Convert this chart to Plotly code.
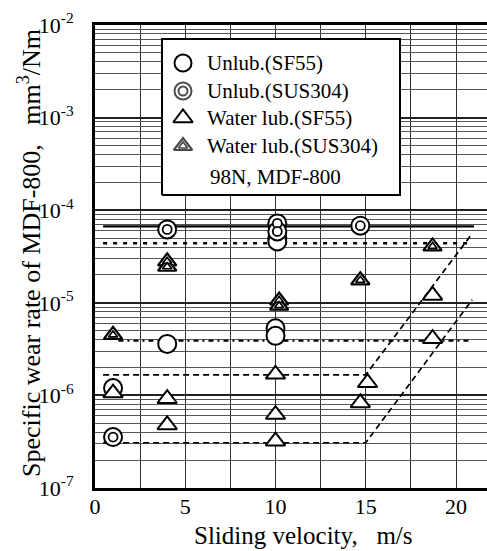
import plotly.graph_objects as go

# ---------------- data ----------------
unlub_sf55_x = [1.0, 4.0, 10.0, 10.0, 10.1, 10.1]
unlub_sf55_y = [1.2e-6, 3.6e-6, 5.3e-6, 4.4e-6, 5.0e-5, 4.6e-5]

unlub_sus_x = [1.0, 4.0, 10.1, 10.1, 14.7]
unlub_sus_y = [3.55e-7, 6.2e-5, 7.2e-5, 5.9e-5, 6.8e-5]

water_sf55_x = [1.0, 4.0, 4.0, 10.0, 10.0, 10.0, 14.7, 15.1, 18.7, 18.7]
water_sf55_y = [1.06e-6, 9.2e-7, 4.8e-7, 1.69e-6, 6.2e-7, 3.2e-7, 8.3e-7, 1.37e-6, 1.2e-5, 4.1e-6]

water_sus_x = [1.0, 4.0, 4.0, 10.2, 10.2, 14.7, 18.7]
water_sus_y = [4.5e-6, 2.8e-5, 2.45e-5, 1.06e-5, 9.3e-6, 1.75e-5, 4.06e-5]

# trend lines
solid_x, solid_y = [0.45, 21.0], [6.7e-5, 6.7e-5]
dot_x, dot_y = [0.45, 20.9], [4.4e-5, 4.4e-5]
dashdot_x, dashdot_y = [1.3, 20.9], [3.9e-6, 3.9e-6]
dash1_x, dash1_y = [0.45, 15.0, 20.9], [1.67e-6, 1.67e-6, 5.6e-5]
dash2_x, dash2_y = [0.45, 15.0, 20.9], [3.08e-7, 3.08e-7, 1.08e-5]

legend_labels = ["Unlub.(SF55)", "Unlub.(SUS304)", "Water lub.(SF55)", "Water lub.(SUS304)"]
legend_note = "98N, MDF-800"

x_ticks = [0, 5, 10, 15, 20]
y_exps = [-7, -6, -5, -4, -3, -2]

FONT = "Liberation Serif, Times New Roman, serif"
W, H = 487, 551
ML, MT, MB, MR = 95, 25, 63, 0
PW, PH = W - ML - MR, H - MT - MB

fig = go.Figure()

def line(x, y, dash, width):
    fig.add_trace(go.Scatter(x=x, y=y, mode="lines", showlegend=False, hoverinfo="skip",
                             line=dict(color="black", width=width, dash=dash)))

line(solid_x, solid_y, "solid", 2.2)
line(dot_x, dot_y, "4px,6px", 2.6)
line(dashdot_x, dashdot_y, "5px,4px,2px,4px", 2.0)
line(dash1_x, dash1_y, "6px,4px", 1.7)
line(dash2_x, dash2_y, "6px,4px", 1.7)

def marks(x, y, symbol, size, lw=2.0):
    fig.add_trace(go.Scatter(x=x, y=y, mode="markers", showlegend=False,
                             marker=dict(symbol=symbol, size=size, color="white",
                                         line=dict(color="black", width=lw))))

# plain circles
marks(unlub_sf55_x, unlub_sf55_y, "circle", 18)
# double circles
marks(unlub_sus_x, unlub_sus_y, "circle", 18)
marks(unlub_sus_x, unlub_sus_y, "circle", 9, 1.8)
# triangles
marks(water_sf55_x, water_sf55_y, "triangle-up", 17)
# double triangles
marks(water_sus_x, water_sus_y, "triangle-up", 16, 2.2)
marks(water_sus_x, water_sus_y, "triangle-up", 8, 1.7)

# ---------------- manual legend (on an overlay axis in 0..1 units) ----------------
def px_x(px):
    return (px - ML) / PW

def px_y(py):
    return (MT + PH - py) / PH

# legend box (white, opaque, above the grid)
bx0, bx1, by0, by1 = px_x(162), px_x(400), px_y(195), px_y(39)
fig.add_trace(go.Scatter(x=[bx0, bx1, bx1, bx0, bx0], y=[by0, by0, by1, by1, by0], xaxis="x2", yaxis="y2",
                         mode="lines", fill="toself", fillcolor="white", showlegend=False, hoverinfo="skip",
                         line=dict(color="black", width=2)))

leg_rows_py = [63, 91, 118, 146]
leg_sym_x = px_x(183)
leg_y = [px_y(p) for p in leg_rows_py]
lx = [leg_sym_x] * 4
fig.add_trace(go.Scatter(x=[lx[0]], y=[leg_y[0]], xaxis="x2", yaxis="y2", mode="markers", showlegend=False,
                         marker=dict(symbol="circle", size=17, color="white", line=dict(color="black", width=2.0))))
fig.add_trace(go.Scatter(x=[lx[1]] * 2, y=[leg_y[1]] * 2, xaxis="x2", yaxis="y2", mode="markers", showlegend=False,
                         marker=dict(symbol="circle", size=[17, 9], color="white", line=dict(color="black", width=2.0))))
fig.add_trace(go.Scatter(x=[lx[2]], y=[leg_y[2]], xaxis="x2", yaxis="y2", mode="markers", showlegend=False,
                         marker=dict(symbol="triangle-up", size=17, color="white", line=dict(color="black", width=2.0))))
fig.add_trace(go.Scatter(x=[lx[3]] * 2, y=[leg_y[3]] * 2, xaxis="x2", yaxis="y2", mode="markers", showlegend=False,
                         marker=dict(symbol="triangle-up", size=[16, 8], color="white", line=dict(color="black", width=[2.2, 1.7]))))

annotations = []
for lab, yy in zip(legend_labels, leg_y):
    annotations.append(dict(xref="paper", yref="paper", x=px_x(205), y=yy, text=lab, showarrow=False,
                            xanchor="left", yanchor="middle", font=dict(family=FONT, size=21, color="black")))
annotations.append(dict(xref="paper", yref="paper", x=px_x(208), y=px_y(177), text=legend_note, showarrow=False,
                        xanchor="left", yanchor="middle", font=dict(family=FONT, size=21, color="black")))

# axis titles
annotations.append(dict(xref="paper", yref="paper", x=px_x(303), y=px_y(535),
                        text="Sliding velocity,\u00a0\u00a0\u00a0m/s", showarrow=False,
                        xanchor="center", yanchor="middle", font=dict(family=FONT, size=25, color="black")))
annotations.append(dict(xref="paper", yref="paper", x=px_x(29), y=px_y(253), textangle=-90,
                        text="Specific wear rate of MDF-800,\u00a0\u00a0\u00a0mm<sup>3</sup>/Nm", showarrow=False,
                        xanchor="center", yanchor="middle", font=dict(family=FONT, size=26, color="black")))

fig.update_layout(
    width=W, height=H, margin=dict(l=ML, r=MR, t=MT, b=MB, pad=0),
    paper_bgcolor="white", plot_bgcolor="white", showlegend=False,
    font=dict(family=FONT, color="black"),
    annotations=annotations,
    xaxis=dict(range=[0, PW / 18.05], tickvals=x_ticks, ticktext=[str(v) for v in x_ticks],
               tickfont=dict(size=22, family=FONT), ticks="", ticklabelstandoff=-3,
               showgrid=True, gridcolor="#333", gridwidth=1,
               minor=dict(dtick=2.5, showgrid=True, gridcolor="#333", gridwidth=1, ticks=""),
               showline=True, linecolor="black", linewidth=3, mirror=True, zeroline=False),
    yaxis=dict(type="log", range=[-7, -2], tickvals=[10.0 ** e for e in y_exps],
               ticktext=["10<sup>%d</sup>" % e for e in y_exps],
               tickfont=dict(size=22, family=FONT), ticks="", ticklabelstandoff=14,
               showgrid=True, gridcolor="#222", gridwidth=2,
               minor=dict(dtick="D1", showgrid=True, gridcolor="#555", gridwidth=1, ticks=""),
               showline=True, linecolor="black", linewidth=3, zeroline=False),
    xaxis2=dict(overlaying="x", range=[0, 1], visible=False),
    yaxis2=dict(overlaying="y", range=[0, 1], visible=False),
)

fig.write_html("out.html")
